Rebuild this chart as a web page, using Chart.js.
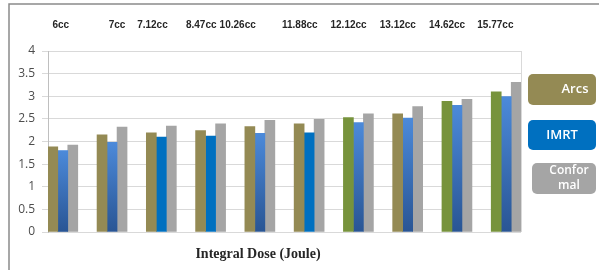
<!DOCTYPE html>
<html>
<head>
<meta charset="utf-8">
<script src="https://cdn.jsdelivr.net/npm/chart.js@4"></script>
<style>
  html, body { margin: 0; padding: 0; background: #fff; }
  #wrap { width: 599px; height: 270px; position: relative; }
</style>
</head>
<body>
<div id="wrap"><canvas id="doseChart" width="599" height="270"></canvas></div>
<script>
// --- data ---
const volumes = ['6cc', '7cc', '7.12cc', '8.47cc', '10.26cc', '11.88cc', '12.12cc', '13.12cc', '14.62cc', '15.77cc'];
// where the volume labels sit along the x axis (axis units, group index)
const volumeLabelAt = [-0.04, 1.10, 1.82, 2.81, 3.55, 4.81, 5.80, 6.80, 7.80, 8.78];
const arcs      = [1.88, 2.15, 2.19, 2.24, 2.33, 2.39, 2.53, 2.61, 2.89, 3.10];
const imrt      = [1.80, 1.98, 2.10, 2.12, 2.18, 2.19, 2.42, 2.52, 2.80, 2.99];
const conformal = [1.92, 2.32, 2.34, 2.39, 2.47, 2.49, 2.61, 2.77, 2.93, 3.31];
const arcsGreen = [false, false, false, false, false, false, true, false, true, true];
const imrtSolid = [false, false, true, true, false, true, false, false, false, false];
const yTicks = [0, 0.5, 1, 1.5, 2, 2.5, 3, 3.5, 4];

const OLIVE = '#948A54';
const GREEN = '#77933C';
const BLUE = '#0070C0';
const GREY = '#A5A5A5';

const toPoints = arr => arr.map((v, i) => ({ x: i, y: v }));

// gradient fill for the IMRT bars (lighter at top, darker at bottom)
function imrtFill(ctx) {
    if (ctx.type !== 'data') return BLUE;
    if (imrtSolid[ctx.dataIndex]) return BLUE;
    const chart = ctx.chart;
    if (!chart.chartArea) return '#3D78C4';
    const yScale = chart.scales.y;
    const top = yScale.getPixelForValue(imrt[ctx.dataIndex]);
    const bottom = yScale.getPixelForValue(0);
    const g = chart.ctx.createLinearGradient(0, top, 0, bottom);
    g.addColorStop(0, '#4C8ADA');
    g.addColorStop(1, '#295594');
    return g;
}

// frame, right border of plot, legend boxes, x title
const decorations = {
    id: 'decorations',
    beforeDraw(chart) {
        const c = chart.ctx;
        c.save();
        c.fillStyle = '#fff';
        c.fillRect(0, 0, chart.width, chart.height);
        c.restore();
    },
    afterDraw(chart) {
        const c = chart.ctx;
        const a = chart.chartArea;
        c.save();
        // outer figure frame
        c.strokeStyle = '#8a8a8a';
        c.lineWidth = 1.5;
        c.beginPath();
        c.moveTo(9, chart.height);
        c.lineTo(9, 4);
        c.lineTo(chart.width, 4);
        c.stroke();
        // right plot border
        c.strokeStyle = '#D9D9D9';
        c.lineWidth = 1;
        c.beginPath();
        c.moveTo(a.right + 0.5, a.top);
        c.lineTo(a.right + 0.5, a.bottom);
        c.stroke();

        // legend boxes
        const boxes = [
            { x: 528, y: 74, w: 68, h: 31, color: OLIVE, lines: ['Arcs'], tx: 575, size: 13 },
            { x: 528, y: 120, w: 68, h: 30, color: BLUE, lines: ['IMRT'], tx: 562, size: 13 },
            { x: 532, y: 163, w: 64, h: 31, color: GREY, lines: ['Confor', 'mal'], tx: 569, size: 12 }
        ];
        boxes.forEach(b => {
            c.fillStyle = b.color;
            c.beginPath();
            c.roundRect(b.x, b.y, b.w, b.h, 5);
            c.fill();
            c.fillStyle = '#fff';
            c.textAlign = 'center';
            c.textBaseline = 'middle';
            c.font = '600 ' + b.size + 'px "Open Sans"';
            const lh = 15;
            const y0 = b.y + b.h / 2 - (b.lines.length - 1) * lh / 2;
            b.lines.forEach((t, k) => c.fillText(t, b.tx, y0 + k * lh));
        });

        // x axis title
        c.fillStyle = '#262626';
        c.font = 'bold 14px "Liberation Serif"';
        c.textAlign = 'center';
        c.textBaseline = 'middle';
        c.fillText('Integral Dose (Joule)', 258, 254);
        c.restore();
    }
};

new Chart(document.getElementById('doseChart'), {
    type: 'bar',
    data: {
        datasets: [
            {
                label: 'Arcs',
                data: toPoints(arcs),
                backgroundColor: arcs.map((v, i) => arcsGreen[i] ? GREEN : OLIVE),
                barThickness: 10
            },
            {
                label: 'IMRT',
                data: toPoints(imrt),
                backgroundColor: imrtFill,
                barThickness: 10
            },
            {
                label: 'Conformal',
                data: toPoints(conformal),
                backgroundColor: GREY,
                barThickness: 10
            }
        ]
    },
    plugins: [decorations],
    options: {
        responsive: false,
        animation: false,
        layout: { padding: { left: 0, right: 78, top: 0, bottom: 38 } },
        plugins: {
            legend: { display: false },
            title: { display: false },
            tooltip: { enabled: false }
        },
        scales: {
            x: {
                type: 'linear',
                display: false,
                offset: false,
                min: -0.3,
                max: 9.3
            },
            xTop: {
                type: 'linear',
                position: 'top',
                offset: false,
                min: -0.3,
                max: 9.3,
                grid: { display: false, offset: false },
                border: { display: false },
                afterBuildTicks: scale => {
                    scale.ticks = volumeLabelAt.map(v => ({ value: v }));
                },
                afterFit: scale => { scale.height = 51; },
                ticks: {
                    autoSkip: false,
                    maxRotation: 0,
                    padding: 12,
                    color: '#262626',
                    font: { family: '"Liberation Sans"', size: 10, weight: 'bold' },
                    callback: (value, index) => volumes[index]
                }
            },
            y: {
                min: 0,
                max: 4,
                afterBuildTicks: scale => {
                    scale.ticks = yTicks.map(v => ({ value: v }));
                },
                afterFit: scale => { scale.width = 48; },
                grid: { color: '#D9D9D9', tickLength: 6 },
                border: { color: '#BFBFBF' },
                ticks: {
                    padding: 7,
                    color: '#4d4d4d',
                    font: { family: '"Open Sans"', size: 12 },
                    callback: value => String(value)
                }
            }
        }
    }
});
</script>
</body>
</html>
